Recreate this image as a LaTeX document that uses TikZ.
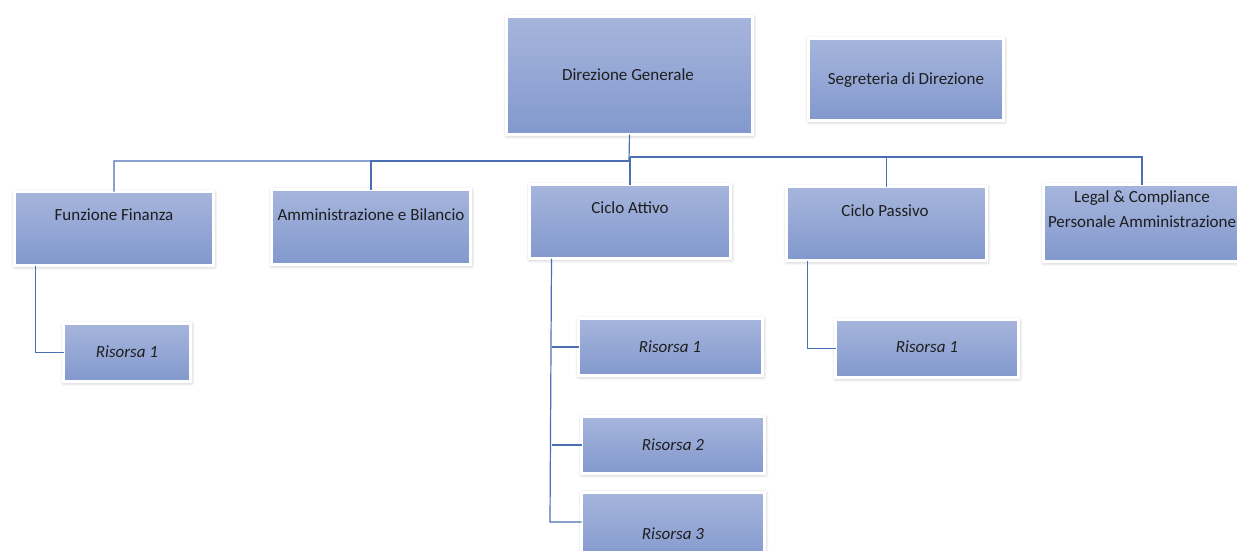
\documentclass[tikz,border=0pt]{standalone}
\usepackage{fontspec}
\setmainfont{Carlito}
\usetikzlibrary{shadows.blur}
\definecolor{boxtop}{HTML}{A6B5DC}
\definecolor{boxbot}{HTML}{8298CD}
\definecolor{conncol}{HTML}{4A6FB5}
\definecolor{txtcol}{HTML}{1E1E1E}
\tikzset{
  orgbox/.style={draw=white, line width=3pt, top color=boxtop, bottom color=boxbot,
    inner sep=0pt, outer sep=0pt,
    blur shadow={shadow xshift=0.5pt, shadow yshift=-1pt, shadow blur radius=4pt,
      shadow blur steps=8, shadow opacity=30},
    path picture={\draw[black!70!blue, opacity=0.35, line width=3pt]
      (path picture bounding box.south west) -- (path picture bounding box.south east);
      \draw[black!70!blue, opacity=0.2, line width=2pt]
      (path picture bounding box.south east) -- (path picture bounding box.north east);}},
  lbl/.style={text=txtcol, font=\fontsize{17}{20}\selectfont, inner sep=0pt, align=center},
  ilbl/.style={lbl, font=\fontsize{17}{20}\selectfont\itshape},
  conn/.style={draw=conncol, line width=1.2pt}
}
\begin{document}
\begin{tikzpicture}[x=1pt, y=-1pt]
\useasboundingbox (0,0) rectangle (1237,550);
% top level
\node[orgbox, minimum width=246pt, minimum height=118pt] (dg) at (629.5,75.5) {};
\node[lbl] (dgT) at (628,75) {Direzione Generale};
\node[orgbox, minimum width=195pt, minimum height=82pt] (seg) at (906,79.5) {};
\node[lbl] (segT) at (906,80) {Segreteria di Direzione};
% second level
\node[orgbox, minimum width=199pt, minimum height=74pt] (ff) at (114,228.5) {};
\node[lbl] (ffT) at (114,215) {Funzione Finanza};
\node[orgbox, minimum width=199pt, minimum height=75pt] (ab) at (371,227) {};
\node[lbl] (abT) at (371,215) {Amministrazione e Bilancio};
\node[orgbox, minimum width=201pt, minimum height=74pt] (ca) at (630,221.5) {};
\node[lbl] (caT) at (630,208) {Ciclo Attivo};
\node[orgbox, minimum width=200pt, minimum height=74pt] (cp) at (886.5,223.5) {};
\node[lbl] (cpT) at (885,211) {Ciclo Passivo};
\node[orgbox, minimum width=197pt, minimum height=77pt] (lc) at (1142,223) {};
\node[lbl] (lcT1) at (1142,198) {Legal \& Compliance};
\node[lbl] (lcT2) at (1142,222) {Personale Amministrazione};
% third level
\node[orgbox, minimum width=127pt, minimum height=58pt] (ffr1) at (127,352.5) {};
\node[ilbl] (ffr1T) at (127,352) {Risorsa 1};
\node[orgbox, minimum width=184pt, minimum height=57pt] (car1) at (670.5,347) {};
\node[ilbl] (car1T) at (670,347) {Risorsa 1};
\node[orgbox, minimum width=183pt, minimum height=57pt] (car2) at (673,445) {};
\node[ilbl] (car2T) at (673,445) {Risorsa 2};
\node[orgbox, minimum width=183pt, minimum height=70pt] (car3) at (673,527) {};
\node[ilbl] (car3T) at (673,534) {Risorsa 3};
\node[orgbox, minimum width=183pt, minimum height=58pt] (cpr1) at (927,348.5) {};
\node[ilbl] (cpr1T) at (927,347) {Risorsa 1};
% connectors
\coordinate (jL) at (629,161);
\coordinate (jR) at (630,157);
\draw[conn] (dg.south) -- (jL) -| (ff.north);
\draw[conn] (jL) -| (ab.north);
\draw[conn] (jR) -- (ca.north);
\draw[conn] (jR) -| (cp.north);
\draw[conn] (jR) -| (lc.north);
\draw[conn] ([xshift=21pt]ff.south west) |- (ffr1.west);
\coordinate (caV) at ([xshift=22pt]ca.south west);
\coordinate (caE) at (550,522);
\draw[conn] (caV) -- (caE) -- (caE -| car3.west);
\draw[conn] (car1.west) -- (car1.west -| caV);
\draw[conn] (car2.west) -- (car2.west -| caV);
\draw[conn] ([xshift=21pt]cp.south west) |- (cpr1.west);
\end{tikzpicture}
\end{document}
